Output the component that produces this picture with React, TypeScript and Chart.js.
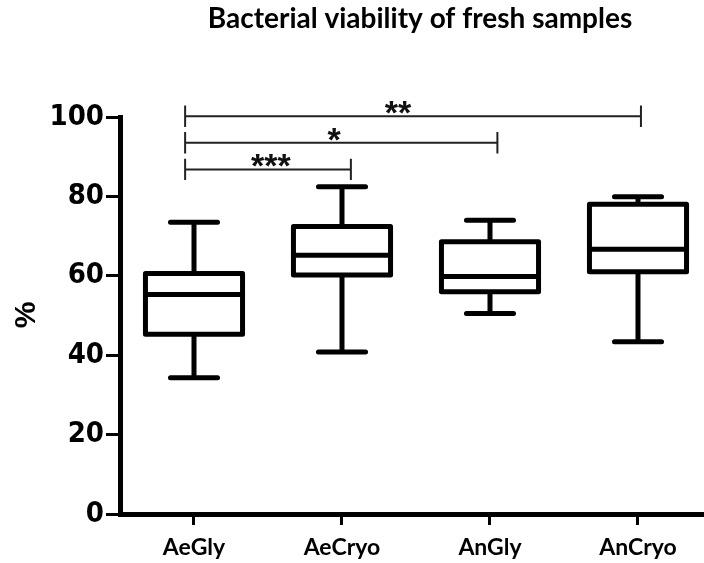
import React, { useEffect, useRef } from "react";
import { Chart, registerables } from "chart.js";

Chart.register(...registerables);

const categories = ["AeGly", "AeCryo", "AnGly", "AnCryo"];
const whiskerLow = [34.3, 40.8, 50.5, 43.4];
const q1 = [45.3, 60.2, 56.0, 61.0];
const median = [55.3, 65.2, 59.8, 66.7];
const q3 = [60.6, 72.4, 68.6, 78.0];
const whiskerHigh = [73.5, 82.4, 74.0, 79.9];
const yTicks = [0, 20, 40, 60, 80, 100];

const bracketStart = [-0.06, -0.06, -0.06];
const bracketEnd = [1.06, 2.05, 3.02];
const bracketLevel = [86.8, 93.5, 100.2];
const bracketLabels = ["***", "*", "**"];
const bracketLabelX = [0.52, 0.946, 1.378];

const titleText = "Bacterial viability of fresh samples";
const yTitle = "%";

const BOX_HALF = 0.328;
const CAP_HALF = 0.159;
const BRACKET_TICK = 2.7;

const boxPlugin = {
  id: "boxPlugin",
  afterDatasetsDraw(chart: any) {
    const { ctx, scales } = chart;
    const x = scales.x;
    const y = scales.y;
    ctx.save();
    ctx.strokeStyle = "#000";
    ctx.lineWidth = 5;
    ctx.lineJoin = "round";
    categories.forEach((_, i) => {
      const xl = x.getPixelForValue(i - BOX_HALF);
      const xr = x.getPixelForValue(i + BOX_HALF);
      const xc = x.getPixelForValue(i);
      const cl = x.getPixelForValue(i - CAP_HALF);
      const cr = x.getPixelForValue(i + CAP_HALF);
      const yq1 = y.getPixelForValue(q1[i]);
      const yq3 = y.getPixelForValue(q3[i]);
      const ym = y.getPixelForValue(median[i]);
      const yl = y.getPixelForValue(whiskerLow[i]);
      const yh = y.getPixelForValue(whiskerHigh[i]);
      ctx.lineCap = "butt";
      ctx.beginPath();
      ctx.moveTo(xc, yq3);
      ctx.lineTo(xc, yh);
      ctx.moveTo(xc, yq1);
      ctx.lineTo(xc, yl);
      ctx.stroke();
      ctx.lineCap = "round";
      ctx.beginPath();
      ctx.moveTo(cl, yh);
      ctx.lineTo(cr, yh);
      ctx.moveTo(cl, yl);
      ctx.lineTo(cr, yl);
      ctx.stroke();
      ctx.lineCap = "butt";
      ctx.fillStyle = "#fff";
      ctx.fillRect(xl, yq3, xr - xl, yq1 - yq3);
      ctx.strokeRect(xl, yq3, xr - xl, yq1 - yq3);
      ctx.beginPath();
      ctx.moveTo(xl, ym);
      ctx.lineTo(xr, ym);
      ctx.stroke();
    });
    ctx.restore();
  },
  afterDraw(chart: any) {
    const { ctx, scales } = chart;
    const x = scales.x;
    const y = scales.y;
    ctx.save();
    ctx.strokeStyle = "#222";
    ctx.lineWidth = 2;
    ctx.lineCap = "butt";
    bracketLevel.forEach((lvl, i) => {
      const x1 = x.getPixelForValue(bracketStart[i]);
      const x2 = x.getPixelForValue(bracketEnd[i]);
      const yy = y.getPixelForValue(lvl);
      const yt = y.getPixelForValue(lvl + BRACKET_TICK);
      const yb = y.getPixelForValue(lvl - BRACKET_TICK);
      ctx.beginPath();
      ctx.moveTo(x1, yy);
      ctx.lineTo(x2, yy);
      ctx.moveTo(x1, yt);
      ctx.lineTo(x1, yb);
      ctx.moveTo(x2, yt);
      ctx.lineTo(x2, yb);
      ctx.stroke();
      ctx.fillStyle = "#111";
      ctx.font = "bold 34px 'Liberation Sans', Arial, sans-serif";
      ctx.textAlign = "center";
      ctx.textBaseline = "alphabetic";
      ctx.fillText(bracketLabels[i], x.getPixelForValue(bracketLabelX[i]), yy + 8);
    });
    ctx.fillStyle = "#000";
    ctx.font = "bold 28px Lato, 'Open Sans', sans-serif";
    ctx.textAlign = "center";
    ctx.textBaseline = "alphabetic";
    ctx.fillText(titleText, 420, 28);
    ctx.translate(27, 315);
    ctx.rotate(-Math.PI / 2);
    ctx.font = "bold 30px 'Liberation Sans', Arial, sans-serif";
    ctx.textAlign = "center";
    ctx.textBaseline = "middle";
    ctx.fillText(yTitle, 0, 0);
    ctx.restore();
  },
};

export default function App() {
  const ref = useRef<HTMLCanvasElement | null>(null);
  useEffect(() => {
    if (!ref.current) return;
    const chart = new Chart(ref.current, {
      type: "bar",
      data: {
        datasets: [
          {
            label: "IQR",
            data: categories.map((_, i) => ({ x: i, y: [q1[i], q3[i]] })) as any,
            backgroundColor: "rgba(255,255,255,0)",
            borderWidth: 0,
            barPercentage: 0.66,
            categoryPercentage: 1,
          },
        ],
      },
      options: {
        animation: false,
        responsive: false,
        devicePixelRatio: 1,
        layout: { padding: { top: 117, left: 0, right: 0, bottom: 0 } },
        plugins: {
          legend: { display: false },
          tooltip: { enabled: false },
          title: { display: false },
        },
        scales: {
          x: {
            type: "linear",
            min: -0.5,
            max: 3.446,
            offset: false,
            afterBuildTicks: (s: any) => {
              s.ticks = categories.map((_, i) => ({ value: i }));
            },
            afterFit: (s: any) => {
              s.height = 49;
            },
            ticks: {
              callback: (v: any) => categories[Math.round(Number(v))],
              font: { family: "Lato, 'Open Sans', sans-serif", weight: "bold", size: 23 },
              color: "#000",
              padding: 9,
              autoSkip: false,
              maxRotation: 0,
            },
            grid: {
              display: true,
              offset: false,
              drawOnChartArea: false,
              drawTicks: true,
              tickLength: 11,
              tickWidth: 3,
              tickColor: "#000",
            },
            border: { display: true, width: 5, color: "#000" },
          },
          y: {
            type: "linear",
            min: 0,
            max: 100,
            afterBuildTicks: (s: any) => {
              s.ticks = yTicks.map((v) => ({ value: v }));
            },
            afterFit: (s: any) => {
              s.width = 120;
            },
            ticks: {
              font: {
                family: "'Liberation Sans Narrow', 'DejaVu Sans Condensed', sans-serif",
                weight: "bold",
                size: 29,
              },
              color: "#000",
              padding: 2,
            },
            grid: {
              display: true,
              drawOnChartArea: false,
              drawTicks: true,
              tickLength: 14,
              tickWidth: 3,
              tickColor: "#000",
            },
            border: { display: true, width: 5, color: "#000" },
          },
        },
      } as any,
      plugins: [boxPlugin],
    });
    return () => chart.destroy();
  }, []);
  return (
    <div style={{ position: "absolute", left: 0, top: 0, width: 704, height: 563, background: "#fff" }}>
      <canvas ref={ref} width={704} height={563} style={{ display: "block" }} />
    </div>
  );
}
